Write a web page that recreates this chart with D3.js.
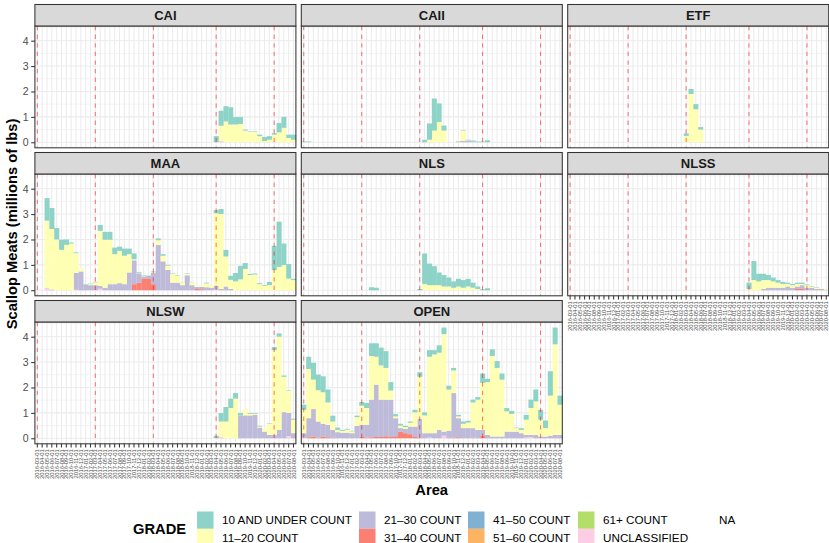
<!DOCTYPE html>
<html><head><meta charset="utf-8">
<script src="https://cdn.jsdelivr.net/npm/d3@7"></script>
<style>
body{margin:0;background:#fff}
svg{display:block;font-family:"Liberation Sans",Arial,Helvetica,sans-serif}
</style>
</head><body>
<svg id="chart" width="829" height="543"></svg>
<script>
// ---------------- DATA ----------------
const months = ["2016-03-01","2016-04-01","2016-05-01","2016-06-01","2016-07-01","2016-08-01","2016-09-01","2016-10-01","2016-11-01","2016-12-01","2017-01-01","2017-02-01",
"2017-03-01","2017-04-01","2017-05-01","2017-06-01","2017-07-01","2017-08-01","2017-09-01","2017-10-01","2017-11-01","2017-12-01","2018-01-01","2018-02-01",
"2018-03-01","2018-04-01","2018-05-01","2018-06-01","2018-07-01","2018-08-01","2018-09-01","2018-10-01","2018-11-01","2018-12-01","2019-01-01","2019-02-01","2019-03-01",
"2019-04-01","2019-05-01","2019-06-01","2019-07-01","2019-08-01","2019-09-01","2019-10-01","2019-11-01","2019-12-01","2020-01-01","2020-02-01","2020-03-01",
"2020-04-01","2020-05-01","2020-06-01","2020-07-01","2020-08-01"];
const grades = ["10 AND UNDER COUNT","11\u201320 COUNT","21\u201330 COUNT","31\u201340 COUNT","41\u201350 COUNT","51\u201360 COUNT","61+ COUNT","UNCLASSIFIED"];
const gradeColors = ["#8DD3C7","#FFFFB3","#BEBADA","#FB8072","#80B1D3","#FDB462","#B3DE69","#FCCDE5"];
const areas = ["CAI","CAII","ETF","MAA","NLS","NLSS","NLSW","OPEN"];
const fishingYearStarts = ["2016-03-01","2017-03-01","2018-03-01","2019-04-01","2020-04-01"];
const yTicks = [0,1,2,3,4];

// values in millions of lbs; each array starts at the month given by *_from
const CAI_from = "2019-04-01";
const CAI_u10  = [.24,.59,.6,.68,.29,.27,.04,.02,.02,.06,.16,.14,.06,.37,.43,.13,.2];
const CAI_g11  = [0,.6,.82,.7,.7,.72,.46,.41,.41,.24,.05,.1,.27,.39,.57,.17,.1];
const CAI_uncl = [0,.05,0,0,0,0,0,0,0,0,0,0,.03,0,0,0,0];

const CAII_from = "2016-03-01";
const CAII_u10 = [.03,.03,0,0,0,0,0,0,0,0,0,0,0,0,0,0,0,0,0,0,0,0,0,0,0,.1,.64,1.26,.73,.2,0,0,0,.02,.03,.04,.03,.03,.08];
const CAII_g11 = [0,0,0,0,0,0,0,0,0,0,0,0,0,0,0,0,0,0,0,0,0,0,0,0,0,0,.1,.46,.8,.46,0,0,.03,.4,.02,0,0,0,0];
const CAII_g21 = [0,0,0,0,0,0,0,0,0,0,0,0,0,0,0,0,0,0,0,0,0,0,0,0,0,0,0,0,0,0,0,0,.04,.06,.05,.03,0,0,0];

const ETF_from = "2018-03-01";
const ETF_u10 = [.1,.2,.2,.1];
const ETF_g11 = [.25,1.9,1.3,.5];

const MAA_from = "2016-03-01";
const MAA_u10 = [0,0,.89,.83,.45,.4,.21,.04,.03,0,.02,.02,.02,.23,.31,.31,.26,.17,.28,.22,.23,.03,.02,.01,.02,.07,.06,.03,.02,.02,.01,.02,.01,0,0,.03,0,.13,.2,.26,.16,.33,.53,.23,.04,.04,.04,.03,.13,.96,1.78,.85,.57,.05];
const MAA_g11 = [0,0,2.64,2.38,2.0,1.59,1.79,1.84,.78,.13,0,.04,.11,2.17,1.89,1.75,1.18,1.27,1.12,.72,.04,.02,.02,.02,.02,.19,.22,.17,.35,.28,.12,.06,.12,.04,.06,.15,.07,2.85,2.95,1.18,.36,.35,.43,.84,.6,.62,.24,.17,.2,.79,.92,.99,.46,.4];
const MAA_g21 = [0,0,0,.03,0,0,0,0,.66,.74,.22,.2,.2,.11,.1,.24,.24,.28,.24,.7,.94,.37,.08,.1,.46,1.78,1.14,.8,.3,.3,.2,.59,.2,.08,.1,.12,.1,.15,.05,.15,.05,0,0,0,0,0,0,0,0,0,0,0,0,0];
const MAA_g31 = [0,0,0,0,0,0,0,0,0,0,0,0,0,0,0,0,0,0,0,0,.24,.3,.47,.47,.24,0,0,0,0,0,0,0,0,.05,.04,0,0,0,0,0,0,0,0,0,0,0,0,0,0,0,0,0,0,0];
const MAA_uncl = [0,0,.1,0,0,0,0,0,.02,0,0,0,0,.06,0,0,0,0,0,0,0,0,0,0,0,0,0,0,0,0,0,0,0,0,0,0,0,.03,0,0,0,0,0,0,0,0,0,0,0,0,0,0,0,0];

const NLS_from = "2017-05-01";
const NLS_u10 = [.12,.1,0,0,0,0,0,0,0,0,.05,1.2,.85,.75,.5,.45,.35,.25,.3,.3,.3,.2,.1,.04,.08];
const NLS_g11 = [0,0,0,0,0,0,0,0,0,0,0,.25,.2,.2,.2,.15,.15,.1,.15,.1,.15,.1,.05,0,0];

const NLSS_from = "2019-04-01";
const NLSS_u10 = [.25,.75,.3,.25,.2,.15,.1,.08,.05,.05,.05,.05,.03,.02,.02,0,0];
const NLSS_g11 = [.05,.4,.35,.35,.3,.25,.2,.15,.1,.1,.1,.05,.1,.05,.05,.03,.02];
const NLSS_g21 = [0,0,0,.05,.1,.1,.1,.1,.15,.1,.1,.15,.1,.1,.05,.05,.02];
const NLSS_g31 = [0,0,0,0,0,0,0,0,0,0,.05,.05,0,0,0,0,0];

const NLSW_from = "2019-04-01";
const NLSW_u10 = [.1,.33,.57,.37,.22,.09,0,.03,.03,.03,0,.02,.12,.13,.05,.02,.04];
const NLSW_g11 = [0,.61,.66,1.19,1.56,0,.25,.06,.04,.04,.11,.44,3.34,3.67,1.39,.86,.53];
const NLSW_g21 = [0,0,0,0,0,.9,.9,.9,.92,.42,.26,.13,.13,.33,1.03,.91,.2];
const NLSW_uncl = [0,.05,0,0,0,0,0,0,0,0,0,0,0,0,0,.09,0];

const OPEN_from = "2016-03-01";
const OPEN_u10 = [.2,.48,.66,.62,.63,.51,.23,.09,.04,.03,.02,.06,.15,.2,.5,.53,.7,.66,.33,.09,.07,.05,.05,.1,.18,.12,.26,.17,.29,.26,.15,.1,.06,.09,.07,.11,.1,.37,.13,.26,.27,.24,.13,.12,.02,.07,.19,.33,.47,.39,.3,.96,.66,.36];
const OPEN_g11 = [.92,1.94,1.16,1.23,1.24,.88,.33,.09,.07,.12,.07,.34,.75,.66,1.72,1.1,1.35,1.25,.36,.07,.1,.07,.15,.56,1.65,.7,3.01,3.1,3.04,3.84,1.62,.89,.07,.17,.22,1.01,1.19,1.85,2.08,3.17,2.7,2.24,.8,.7,.14,.13,.6,1.06,1.32,.66,.33,1.58,3.57,1.19];
const OPEN_g21 = [.17,.75,1.08,.63,.5,.49,.3,.24,.22,.22,.2,.49,.48,.5,1.48,2.06,1.47,1.44,1.47,.71,.14,.17,.3,.41,.74,.2,.17,.2,.33,.16,.3,1.75,.75,.4,.4,.38,.33,.23,.13,.07,.07,.07,.26,.26,.26,.2,.1,.08,.13,.07,.07,.1,.13,.13];
const OPEN_g31 = [0,.04,.07,.03,.07,.04,.03,0,0,0,0,0,.05,.03,.04,.05,.05,.08,.05,.08,.26,.2,.16,.05,.03,0,0,0,0,0,0,.03,.04,0,0,.02,0,.1,0,0,0,0,0,0,0,0,0,0,0,0,0,0,0,0];
const OPEN_uncl = [.03,0,0,0,0,0,0,0,0,0,0,0,0,0,0,0,0,0,0,0,0,0,0,0,0,0,.03,0,0,.1,0,0,0,0,0,0,0,0,0,0,0,0,0,0,0,0,.03,.05,0,0,0,0,0,0];

// area -> [start month, {grade: values}]
const areaData = {
  CAI:  [CAI_from,  {"10 AND UNDER COUNT":CAI_u10, "11\u201320 COUNT":CAI_g11, "UNCLASSIFIED":CAI_uncl}],
  CAII: [CAII_from, {"10 AND UNDER COUNT":CAII_u10,"11\u201320 COUNT":CAII_g11,"21\u201330 COUNT":CAII_g21}],
  ETF:  [ETF_from,  {"10 AND UNDER COUNT":ETF_u10, "11\u201320 COUNT":ETF_g11}],
  MAA:  [MAA_from,  {"10 AND UNDER COUNT":MAA_u10, "11\u201320 COUNT":MAA_g11, "21\u201330 COUNT":MAA_g21, "31\u201340 COUNT":MAA_g31, "UNCLASSIFIED":MAA_uncl}],
  NLS:  [NLS_from,  {"10 AND UNDER COUNT":NLS_u10, "11\u201320 COUNT":NLS_g11}],
  NLSS: [NLSS_from, {"10 AND UNDER COUNT":NLSS_u10,"11\u201320 COUNT":NLSS_g11,"21\u201330 COUNT":NLSS_g21,"31\u201340 COUNT":NLSS_g31}],
  NLSW: [NLSW_from, {"10 AND UNDER COUNT":NLSW_u10,"11\u201320 COUNT":NLSW_g11,"21\u201330 COUNT":NLSW_g21,"UNCLASSIFIED":NLSW_uncl}],
  OPEN: [OPEN_from, {"10 AND UNDER COUNT":OPEN_u10,"11\u201320 COUNT":OPEN_g11,"21\u201330 COUNT":OPEN_g21,"31\u201340 COUNT":OPEN_g31,"UNCLASSIFIED":OPEN_uncl}]
};

// ---------------- BUILD TABLE ----------------
function rowsFor(area){
  const [from, g] = areaData[area];
  const off = months.indexOf(from);
  return months.map((m,i)=>{
    const r = {month:m};
    grades.forEach(gr=>{ const a=g[gr]; r[gr] = a && i-off>=0 && i-off<a.length ? a[i-off] : 0; });
    return r;
  });
}
const tables = {}; areas.forEach(a=>tables[a]=rowsFor(a));
// stack: first legend level on top -> bottom-up is reversed order
const stackGen = d3.stack().keys(grades.slice().reverse());
const stacks = {}; areas.forEach(a=>stacks[a]=stackGen(tables[a]));
const maxTot = d3.max(areas, a=>d3.max(tables[a], r=>d3.sum(grades, g=>r[g])));

// ---------------- LAYOUT ----------------
const svg = d3.select("#chart");
svg.append("rect").attr("width",829).attr("height",543).attr("fill","#fff");
const colL = [34.9, 301.3, 567.7], panelW = 261;
const rowTop = [4.5, 152.5, 300.5], stripH = 21.5, panelH = 121.8;
const color = d3.scaleOrdinal().domain(grades).range(gradeColors);
const x = d3.scaleBand().domain(months).range([0,panelW]).padding(0);
const y = d3.scaleLinear().domain([-0.05*maxTot, 1.05*maxTot]).range([panelH,0]);
const minorY = [0.5,1.5,2.5,3.5,4.5].filter(v=>v<=y.domain()[1]);

areas.forEach((area,k)=>{
  const col=k%3, row=Math.floor(k/3);
  const gx=colL[col], gy=rowTop[row]+stripH;
  const g = svg.append("g").attr("transform",`translate(${gx},${gy})`);
  // grid
  g.selectAll(".mny").data(minorY).join("line").attr("x1",0).attr("x2",panelW)
    .attr("y1",d=>y(d)).attr("y2",d=>y(d)).attr("stroke","#EBEBEB").attr("stroke-width",0.55);
  g.selectAll(".mjy").data(yTicks).join("line").attr("x1",0).attr("x2",panelW)
    .attr("y1",d=>y(d)).attr("y2",d=>y(d)).attr("stroke","#EBEBEB").attr("stroke-width",1.05);
  g.selectAll(".mjx").data(months).join("line").attr("y1",0).attr("y2",panelH)
    .attr("x1",d=>x(d)+x.bandwidth()/2).attr("x2",d=>x(d)+x.bandwidth()/2).attr("stroke","#EBEBEB").attr("stroke-width",1.05);
  // bars
  stacks[area].forEach(layer=>{
    g.append("g").attr("fill",color(layer.key)).selectAll("rect")
      .data(layer.filter(d=>d[1]-d[0]>0)).join("rect")
      .attr("x",d=>x(d.data.month)).attr("width",x.bandwidth()+0.2)
      .attr("y",d=>y(d[1])).attr("height",d=>y(d[0])-y(d[1]));
  });
  // fishing-year lines
  g.selectAll(".vl").data(fishingYearStarts).join("line")
    .attr("x1",d=>x(d)+x.bandwidth()/2).attr("x2",d=>x(d)+x.bandwidth()/2)
    .attr("y1",0).attr("y2",panelH).attr("stroke","red").attr("stroke-opacity",0.5)
    .attr("stroke-width",1.1).attr("stroke-dasharray","4.3,4.3");
  // border
  g.append("rect").attr("width",panelW).attr("height",panelH).attr("fill","none").attr("stroke","#333").attr("stroke-width",1.05);
  // strip
  const s = svg.append("g").attr("transform",`translate(${gx},${rowTop[row]})`);
  s.append("rect").attr("width",panelW).attr("height",stripH).attr("fill","#D9D9D9").attr("stroke","#333").attr("stroke-width",1.05);
  s.append("text").attr("x",panelW/2).attr("y",stripH/2).attr("dy","0.36em").attr("text-anchor","middle")
    .attr("font-size",13).attr("font-weight","bold").attr("fill","#1A1A1A").text(area);
  // y axis
  if(col===0){
    const ax = g.append("g").call(d3.axisLeft(y).tickValues(yTicks).tickSize(3.7).tickPadding(2.5).tickFormat(d3.format("d")));
    ax.select(".domain").remove();
    ax.selectAll("line").attr("stroke","#333").attr("stroke-width",1.05);
    ax.selectAll("text").attr("font-size",10.5).attr("fill","#4D4D4D").attr("font-family",null);
  }
  // x axis for bottom-most panels
  const isBottom = row===2 || (row===1 && col===2);
  if(isBottom){
    const ax = g.append("g").attr("transform",`translate(0,${panelH})`)
      .call(d3.axisBottom(x).tickSize(3.7).tickPadding(1.5));
    ax.select(".domain").remove();
    ax.selectAll("line").attr("stroke","#333").attr("stroke-width",1.05);
    ax.selectAll("text").attr("font-size",5.8).attr("fill","#4D4D4D").attr("font-family",null)
      .attr("text-anchor","end").attr("transform","translate(0,5.5) rotate(-90)").attr("dy","0.35em").attr("y",0).attr("x",0);
  }
});

// axis titles
svg.append("text").attr("x",431.7).attr("y",495).attr("text-anchor","middle").attr("font-size",14.7).attr("font-weight","bold").text("Area");
svg.append("text").attr("transform","translate(17,224) rotate(-90)").attr("text-anchor","middle").attr("font-size",14.7).attr("font-weight","bold").text("Scallop Meats (millions of lbs)");

// legend
const lg = svg.append("g");
lg.append("text").attr("x",133).attr("y",529).attr("dy","0.36em").attr("font-size",14.7).attr("font-weight","bold").text("GRADE");
const legendItems = grades.concat(["NA"]);
const keyX = [197, 359, 468, 578, 694];
const keyW = 16.5, keyH = 17.3, keyTop = 511.5;
legendItems.forEach((gname,i)=>{
  const c=Math.floor(i/2), r=i%2;
  const kx=keyX[c], ky=keyTop+r*keyH;
  if(gname!=="NA") lg.append("rect").attr("x",kx).attr("y",ky).attr("width",keyW).attr("height",keyH).attr("fill",color(gname));
  lg.append("text").attr("x",kx+keyW+8.5).attr("y",ky+keyH/2).attr("dy","0.36em").attr("font-size",11.7).attr("fill","#000").text(gname);
});
</script>
</body></html>
